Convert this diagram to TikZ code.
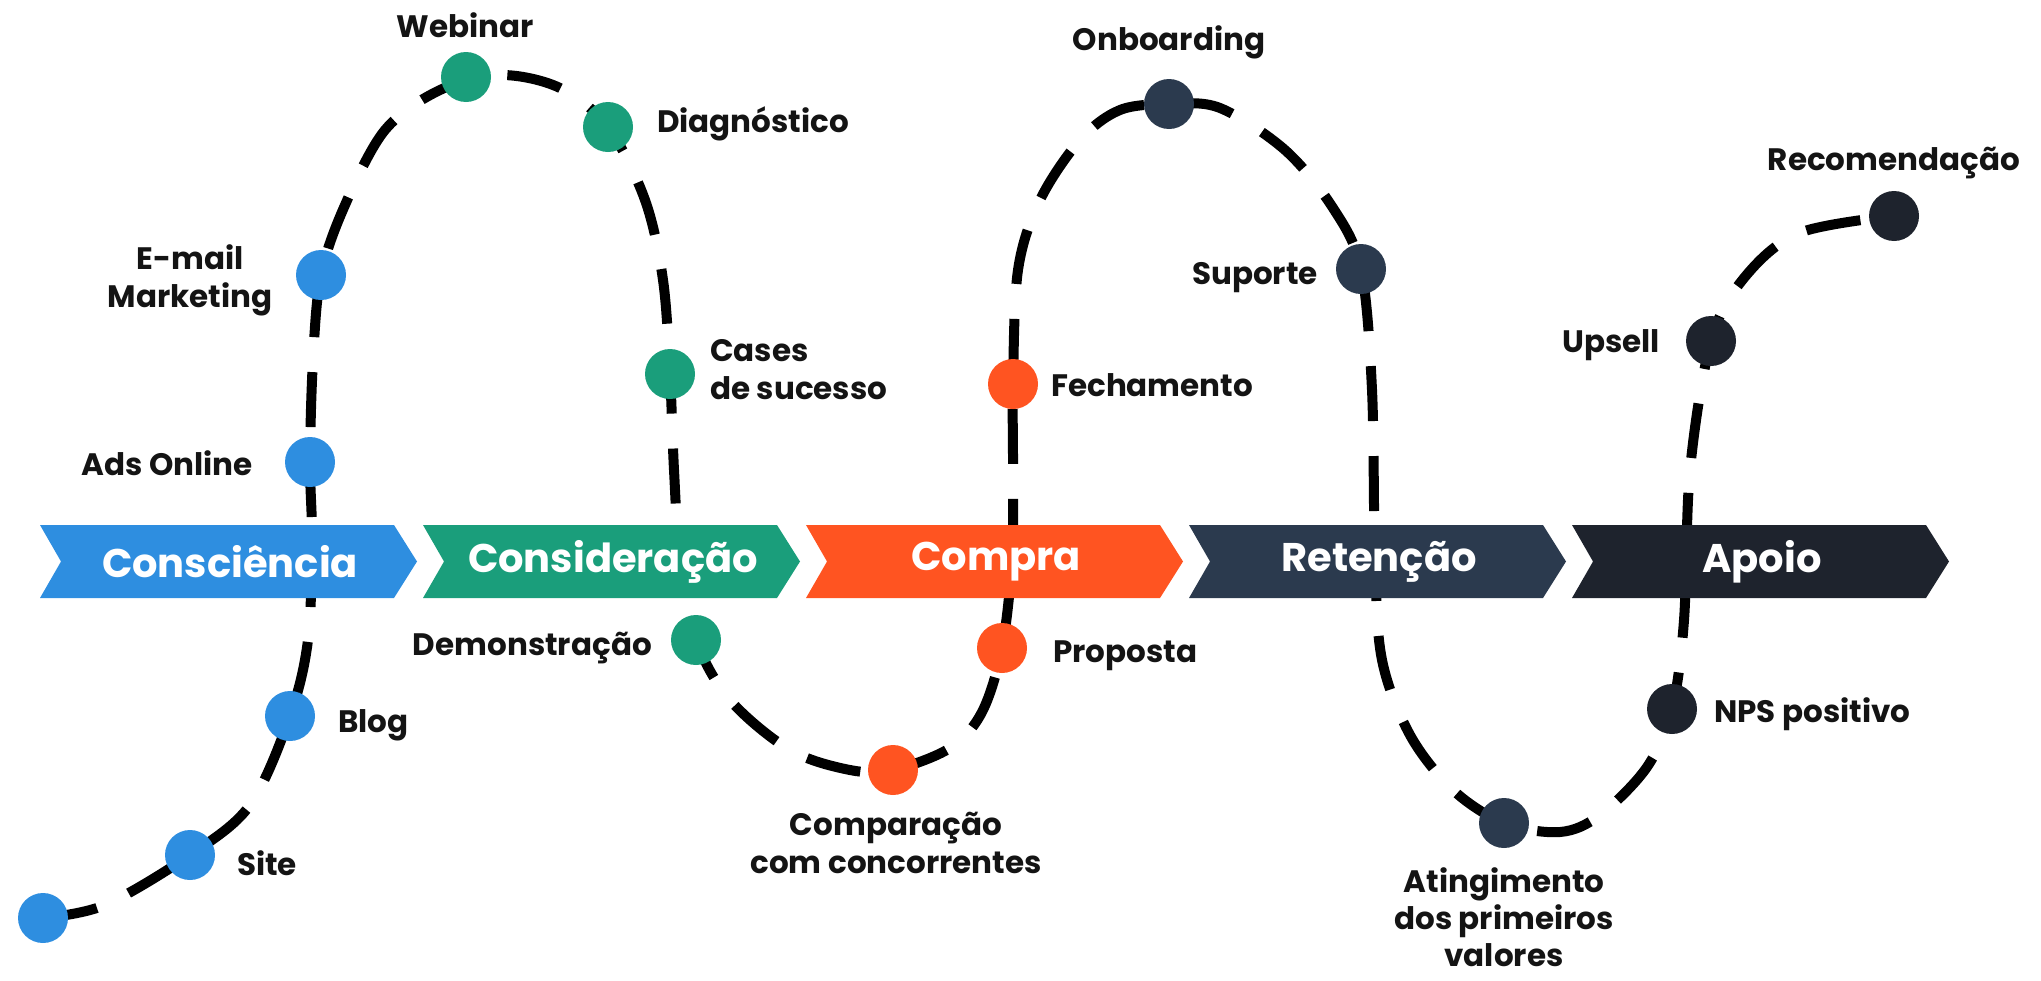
\documentclass[tikz,border=0pt]{standalone}
\usepackage{fontspec}
\setmainfont{Poppins}
\usepackage{tikz}
\definecolor{myblue}{HTML}{2E8EE0}
\definecolor{mygreen}{HTML}{1A9E7B}
\definecolor{myorange}{HTML}{FF5421}
\definecolor{myslate}{HTML}{2B3A4E}
\definecolor{mydark}{HTML}{1E232D}
\definecolor{mytext}{HTML}{141414}
\tikzset{
  journey/.style={line width=10pt, dash pattern=on 55pt off 35pt},
  stagetext/.style={font=\fontsize{40}{46}\selectfont\bfseries, text=white, inner sep=0pt},
  dot/.style={circle, minimum size=50pt, inner sep=0pt},
  lbl/.style={font=\fontsize{31}{38}\selectfont\bfseries, text=mytext, inner sep=0pt, text height=22pt, text depth=0pt},
  mlbl/.style={font=\fontsize{31}{38}\selectfont\bfseries, text=mytext, inner sep=0pt}
}
\begin{document}
\begin{tikzpicture}[x=1pt, y=-1pt]
    \useasboundingbox (0,0) rectangle (2041,980);
    % pontos do percurso
    \coordinate (start) at (43,918);
    \coordinate (site) at (190,855);
    \coordinate (blog) at (290,716);
    \coordinate (ads) at (310,462);
    \coordinate (email) at (321,275);
    \coordinate (web) at (466,77);
    \coordinate (diag) at (608,127);
    \coordinate (cases) at (670,374);
    \coordinate (demo) at (696,640);
    \coordinate (comp) at (893,770);
    \coordinate (prop) at (1002,648);
    \coordinate (fech) at (1013,384);
    \coordinate (onb) at (1169,104);
    \coordinate (sup) at (1361,269);
    \coordinate (ating) at (1504,823);
    \coordinate (nps) at (1672,709);
    \coordinate (ups) at (1711,341);
    \coordinate (rec) at (1894,216);

    % linha tracejada
    \draw[journey] plot[smooth, tension=0.55] coordinates {
        (start) (105,905) (site) (250,805) (blog) (308,640) (312,540) (ads)
        (313,360) (email) (345,205) (385,130) (440,90) (500,75) (560,88) (diag)
        (645,200) (663,280) (cases) (674,470) (680,560) (demo) (730,700)
        (790,750) (850,770) (comp) (950,748) (982,712) (prop) (1012,560)
        (1013,470) (fech) (1018,270) (1040,200) (1080,140) (1120,110) (onb)
        (1220,108) (1285,150) (1333,208) (sup) (1372,390) (1375,560)
        (1382,660) (1410,735) (1453,790) (ating) (1560,832) (1600,815)
        (1647,767) (nps) (1684,620) (1690,470) (ups) (1744,278) (1799,233) (rec)};

    % etapas
    \foreach \i/\col/\txt in {0/myblue/Consciência, 1/mygreen/Consideração,
        2/myorange/Compra, 3/myslate/Retenção, 4/mydark/Apoio} {
        \fill[\col] ({40+383*\i},525) -- ++(354,0) -- ++(23,36.5) -- ++(-23,36.5)
            -- ++(-354,0) -- ++(21,-36.5) -- cycle;
        \node[stagetext] (stage\i) at ({40+383*\i+190},561.5) {\txt};
    }

    % bolinhas
    \foreach \n/\c in {start/myblue, site/myblue, blog/myblue, ads/myblue, email/myblue,
        web/mygreen, diag/mygreen, cases/mygreen, demo/mygreen,
        comp/myorange, prop/myorange, fech/myorange,
        onb/myslate, sup/myslate, ating/myslate,
        nps/mydark, ups/mydark, rec/mydark}
        \node[dot, fill=\c] (d\n) at (\n) {};

    % rótulos
    \node[lbl, anchor=west] (lsite) at (237,864) {Site};
    \node[lbl, anchor=west] (lblog) at (338,721) {Blog};
    \node[lbl, anchor=east] (lads) at (253,464) {Ads Online};
    \node[mlbl, align=center] (lemail) at (190,280) {E-mail\\Marketing};
    \node[lbl] (lweb) at (465,26) {Webinar};
    \node[lbl, anchor=west] (ldiag) at (657,121) {Diagnóstico};
    \node[mlbl, align=left, anchor=west] (lcases) at (710,370) {Cases\\de sucesso};
    \node[lbl, anchor=east] (ldemo) at (652,644) {Demonstração};
    \node[mlbl, align=center] (lcomp) at (896,843) {Comparação\\com concorrentes};
    \node[lbl, anchor=west] (lprop) at (1053,651) {Proposta};
    \node[lbl, anchor=west] (lfech) at (1051,385) {Fechamento};
    \node[lbl] (lonb) at (1169,39) {Onboarding};
    \node[lbl, anchor=east] (lsup) at (1318,273) {Suporte};
    \node[mlbl, align=center, font=\fontsize{31}{37}\selectfont\bfseries] (lating) at (1504,917) {Atingimento\\dos primeiros\\valores};
    \node[lbl, anchor=west] (lnps) at (1714,711) {NPS positivo};
    \node[lbl, anchor=east] (lups) at (1660,341) {Upsell};
    \node[lbl] (lrec) at (1894,159) {Recomendação};
\end{tikzpicture}
\end{document}
